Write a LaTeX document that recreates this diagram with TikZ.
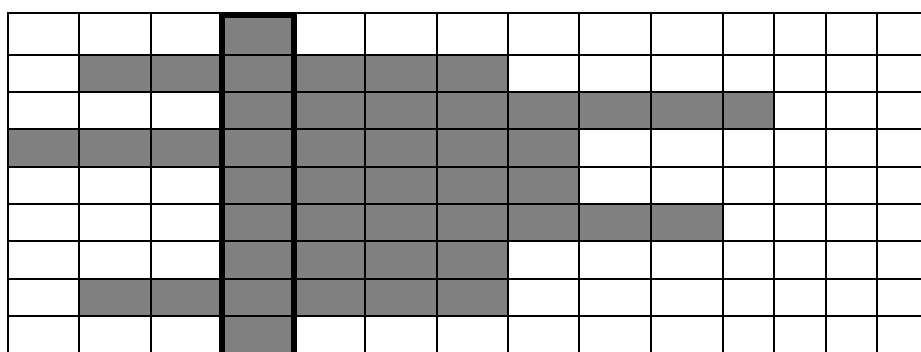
\documentclass[tikz,border=0pt]{standalone}
\definecolor{cgrey}{HTML}{808080}
\tikzset{
  gridline/.style={draw=black, line width=2pt, line cap=rect},
  boldline/.style={draw=black, line width=6pt},
  cell/.style={fill=cgrey},
}
\begin{document}
\begin{tikzpicture}[x=1pt, y=-1pt]
  \useasboundingbox (0,0) rectangle (921,351);
  \fill[white] (0,0) rectangle (921,351);
  \clip (0,0) rectangle (921,351);
  \def\colx{{8,79.3,150.5,222,294,365.3,436.7,507.7,578.7,651,723,774,826,877,928}}
  \def\rowy{{13,54.5,91.7,129.3,166.7,204,241,278.7,316,353.5}}
  % grey runs: row / first column / last column
  \foreach \r/\a/\b in {0/3/3, 1/1/6, 2/3/10, 3/0/7, 4/3/7, 5/3/9, 6/3/6, 7/1/6, 8/3/3} {
    \pgfmathsetmacro\xa{\colx[\a]}
    \pgfmathsetmacro\xb{\colx[\b+1]}
    \pgfmathsetmacro\ya{\rowy[\r]}
    \pgfmathsetmacro\yb{\rowy[\r+1]}
    \fill[cell] (\xa,\ya) rectangle (\xb,\yb);
  }
  % grid
  \foreach \i in {0,...,14} {\pgfmathsetmacro\xx{\colx[\i]} \draw[gridline] (\xx,13) -- (\xx,353.5);}
  \foreach \j in {0,...,9} {\pgfmathsetmacro\yy{\rowy[\j]} \draw[gridline] (8,\yy) -- (928,\yy);}
  % bold column
  \draw[boldline] (222,360) -- (222,15) -- (294,15) -- (294,360);
\end{tikzpicture}
\end{document}
